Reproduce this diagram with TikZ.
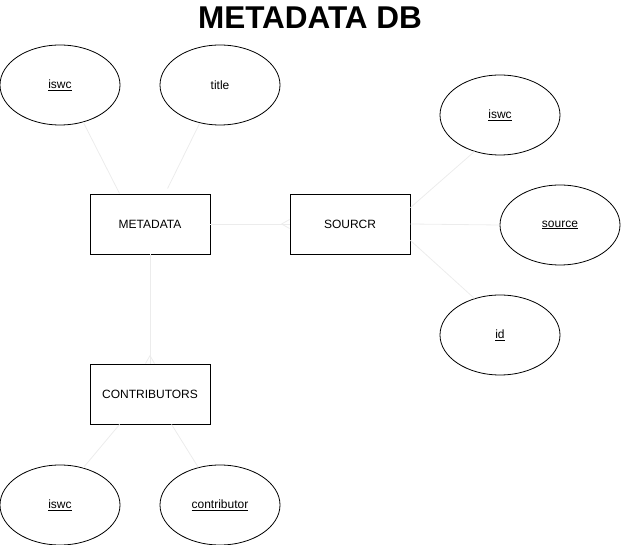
\documentclass[tikz,border=0pt]{standalone}
\usepackage{fontspec}
\setmainfont{Liberation Sans}
\usetikzlibrary{calc,shapes.geometric}
\definecolor{linkgray}{HTML}{ECECEC}
\tikzset{
  entity/.style={draw=black, line width=0.9pt, minimum width=120pt, minimum height=60pt, inner sep=0pt, font=\fontsize{12}{14}\selectfont},
  attr/.style={draw=black, ellipse, line width=0.8pt, minimum width=120pt, minimum height=80pt, inner sep=0pt, font=\fontsize{12}{14}\selectfont},
  link/.style={draw=linkgray, line width=0.8pt},
  crow/.style={draw=linkgray, line width=0.8pt},
}
\begin{document}
\begin{tikzpicture}[x=1pt,y=-1pt]
\useasboundingbox (0,0) rectangle (622,545);
\node[font=\fontsize{31.5}{35}\selectfont\bfseries] (title) at (310,18) {METADATA DB};

\node[entity] (meta) at (150,224) {METADATA};
\node[entity] (src) at (350,224) {SOURCR};
\node[entity] (contr) at (150,394) {CONTRIBUTORS};

\node[attr] (iswcA) at (60,85) {\underline{iswc}};
\node[attr] (title2) at (220,85) {title};
\node[attr] (iswcB) at (500,115) {\underline{iswc}};
\node[attr] (source) at (560,225) {\underline{source}};
\node[attr] (id) at (500,335) {\underline{id}};
\node[attr] (iswcC) at (60,505) {\underline{iswc}};
\node[attr] (contrib) at (220,505) {\underline{contributor}};

% connectors
\draw[link] (iswcA.-58) -- ($(meta.north west)+(30,0)$);
\draw[link] (title2.-118) -- ($(meta.north west)+(78,-5)$);
\draw[link] (meta.east) -- (src.west);
\draw[link] (meta.south) -- (contr.north);
\draw[link] ($(src.north east)+(0,14)$) -- (iswcB.-125);
\draw[link] (src.east) -- (source.west);
\draw[link] ($(src.south east)+(0,-14)$) -- (id.125);
\draw[link] ($(contr.south west)+(30,0)$) -- (iswcC.58);
\draw[link] ($(contr.south west)+(82,0)$) -- (contrib.120);

% crow's feet
\coordinate (cfA) at ($(src.west)+(-8,0)$);
\draw[crow] (cfA) -- ($(src.west)+(0,-4.5)$);
\draw[crow] (cfA) -- ($(src.west)+(0,4.5)$);
\coordinate (cfB) at ($(contr.north)+(0,-8)$);
\draw[crow] (cfB) -- ($(contr.north)+(-4.5,0)$);
\draw[crow] (cfB) -- ($(contr.north)+(4.5,0)$);
\end{tikzpicture}
\end{document}
